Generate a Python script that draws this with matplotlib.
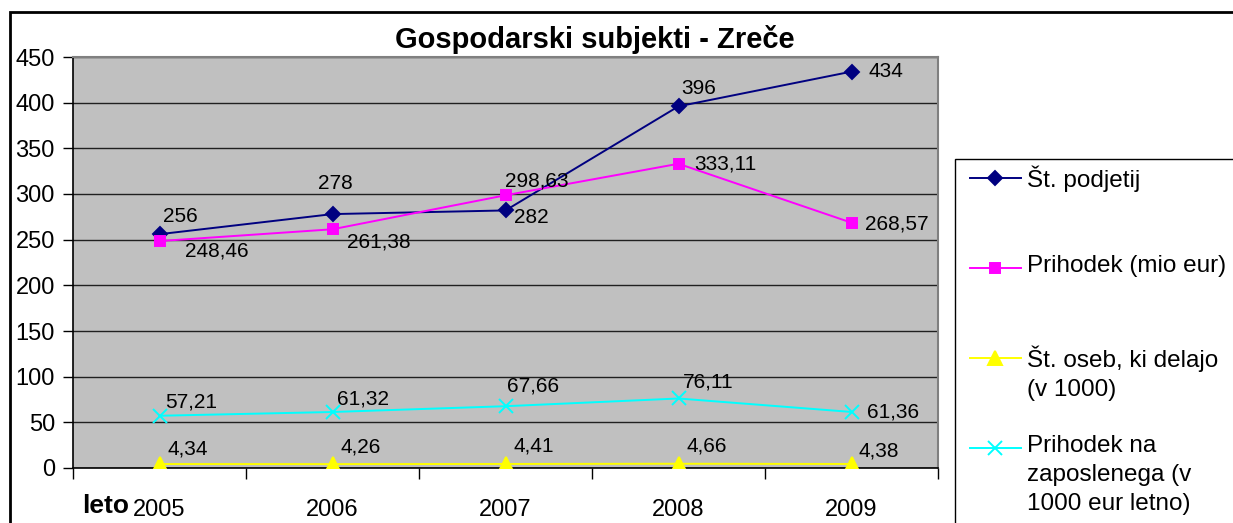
import matplotlib.pyplot as plt
from matplotlib.lines import Line2D
from matplotlib.patches import Rectangle

plt.rcParams['font.family'] = ['Liberation Sans', 'DejaVu Sans']

years = ['2005', '2006', '2007', '2008', '2009']
st_podjetij = [256, 278, 282, 396, 434]
prihodek = [248.46, 261.38, 298.63, 333.11, 268.57]
st_oseb = [4.34, 4.26, 4.41, 4.66, 4.38]
prihodek_zap = [57.21, 61.32, 67.66, 76.11, 61.36]

labels = ['Št. podjetij', 'Prihodek (mio eur)', 'Št. oseb, ki delajo\n(v 1000)',
          'Prihodek na\nzaposlenega (v\n1000 eur letno)']

# label offsets in pixels (dx, dy up)
offs_podj = [(21, 18), (3, 31), (26, -7), (20, 18), (34, 0)]
offs_prih = [(57, -10), (46, -13), (31, 14), (47, 0), (45, -1)]
offs_oseb = [(28, 15), (28, 17), (28, 18), (28, 18), (27, 13)]
offs_zap = [(32, 14), (31, 13), (28, 20), (30, 16), (42, 0)]

series = [
    (st_podjetij, '#000080', 'D', 7, offs_podj),
    (prihodek, '#FF00FF', 's', 7.5, offs_prih),
    (st_oseb, '#FFFF00', '^', 9.5, offs_oseb),
    (prihodek_zap, '#00FFFF', 'x', 10, offs_zap),
]

def fmt(v):
    return f'{v:g}'.replace('.', ',')

fig = plt.figure(figsize=(12.33, 5.23), dpi=100)
W, H = 1233, 523

# outer chart frame and legend box
fig.add_artist(Rectangle((10 / W, -0.1), 1.2, 1 - 12 / H + 0.1, transform=fig.transFigure,
                         fill=False, ec='black', lw=2))
fig.add_artist(Rectangle((955 / W, -0.1), 1.2, 1 - 159 / H + 0.1, transform=fig.transFigure,
                         fill=False, ec='black', lw=1))

ax = fig.add_axes([73 / W, 1 - 468 / H, (938 - 73) / W, (468 - 57) / H])
ax.set_facecolor('#C0C0C0')
x = list(range(len(years)))

for vals, col, mk, ms, offs in series:
    ax.plot(x, vals, color=col, lw=1.4, marker=mk, ms=ms, mew=1.4, zorder=3)
    for xi, v, (dx, dy) in zip(x, vals, offs):
        ax.annotate(fmt(v), (xi, v), xytext=(dx, dy), textcoords='offset pixels',
                    ha='center', va='center', fontsize=15, color='black', zorder=4)

ax.set_xlim(-0.5, 4.5)
ax.set_ylim(0, 450)
ax.set_yticks(range(0, 451, 50))
ax.tick_params(axis='y', labelsize=17, length=7, width=1, pad=6)
ax.yaxis.grid(True, color='#202020', lw=1)
ax.set_axisbelow(True)
ax.set_xticks(x)
ax.set_xticklabels(years, fontsize=17)
ax.set_xticks([i - 0.5 for i in range(6)], minor=True)
ax.tick_params(axis='x', which='major', length=0, pad=22)
ax.tick_params(axis='x', which='minor', length=8, width=1)
for side in ['top', 'right']:
    ax.spines[side].set_color('#808080')
    ax.spines[side].set_linewidth(1.5)
for side in ['left', 'bottom']:
    ax.spines[side].set_linewidth(1.2)

fig.text(106 / W, 1 - 506 / H, 'leto', fontsize=19, fontweight='bold', ha='center', va='center')
fig.text(595 / W, 1 - 40 / H, 'Gospodarski subjekti - Zreče', fontsize=21,
         fontweight='bold', ha='center', va='center')

# legend drawn by hand
leg_y = [178, 268, 358, 448]
for (vals, col, mk, ms, offs), lab, ly in zip(series, labels, leg_y):
    yf = 1 - ly / H
    fig.add_artist(Line2D([970 / W, 1021 / W], [yf, yf], transform=fig.transFigure,
                          color=col, lw=1.4))
    fig.add_artist(Line2D([995 / W], [yf], transform=fig.transFigure, color=col,
                          marker=mk, ms=ms, mew=1.4, ls='none'))
    fig.text(1027 / W, 1 - (ly - 13) / H, lab, fontsize=17.5, ha='left', va='top',
             linespacing=1.42)

fig.savefig('out.png', dpi=100)
